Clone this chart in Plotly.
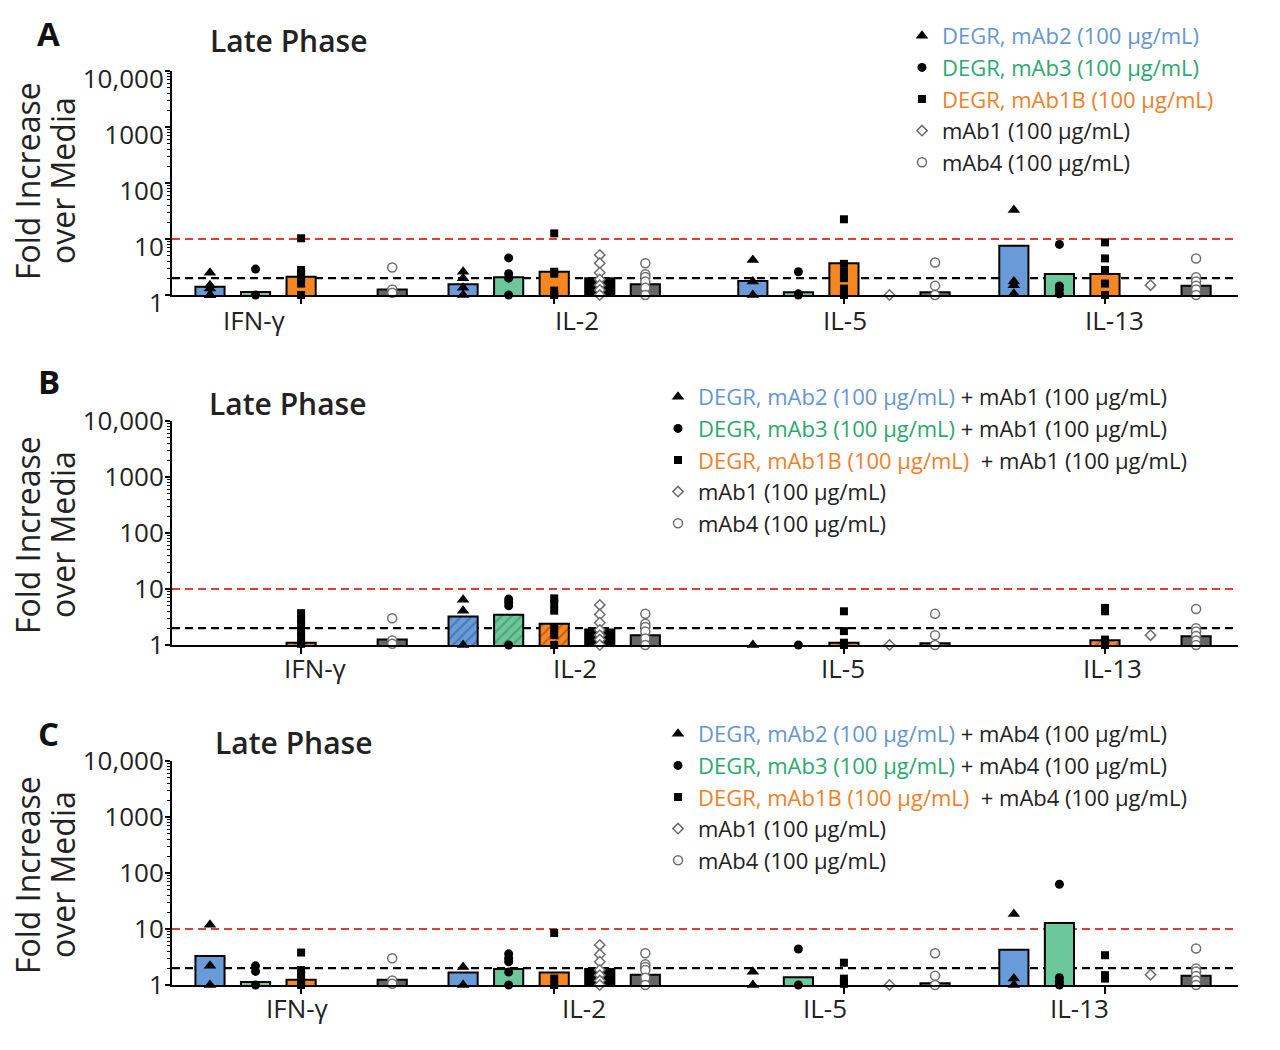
import plotly.graph_objects as go

# ---------------- data ----------------
cytokines = ["IFN-γ", "IL-2", "IL-5", "IL-13"]
series_keys = ["mAb2", "mAb3", "mAb1B", "mAb1", "mAb4"]
y_tickvals = [1, 10, 100, 1000, 10000]
y_ticktext = ["1", "10", "100", "1000", "10,000"]
threshold_red = 10
threshold_black = 2

# Panel A (DEGR alone)
A_bar_mAb2 = [1.41, 1.55, 1.78, 7.6]
A_bar_mAb3 = [1.13, 2.07, 1.12, 2.37]
A_bar_mAb1B = [2.12, 2.6, 3.7, 2.37]
A_bar_mAb1 = [None, 2.0, None, None]
A_bar_mAb4 = [1.26, 1.55, 1.12, 1.47]
A_pts_mAb2 = [[2.5, 1.5, 1.3, 1.0, 1.0], [2.6, 2.0, 1.35, 1.0], [4.2, 1.75, 1.0], [33, 1.75, 1.5, 1.05]]
A_pts_mAb3 = [[2.9, 1.0], [4.6, 2.4, 2.0, 1.0], [2.6, 1.05, 1.0], [8.0, 1.45, 1.25, 1.05]]
A_pts_mAb1B = [[10.3, 2.8, 2.4, 2.0, 1.6, 1.0], [12.6, 2.6, 2.4, 1.2, 1.0],
               [22.5, 3.6, 2.6, 2.0, 1.3, 1.0], [8.7, 4.5, 2.8, 1.6, 1.0]]
A_pts_mAb1 = [[], [5.2, 3.7, 2.5, 1.9, 1.5, 1.23, 1.0], [1.0], [1.5]]
A_pts_mAb4 = [[3.1, 1.25, 1.1], [3.7, 2.35, 2.1, 1.75, 1.35, 1.0], [3.8, 1.47, 1.0],
              [4.5, 2.07, 1.75, 1.47, 1.25, 1.0]]

# Panel B (DEGR + mAb1)
B_bar_mAb2 = [None, 3.24, None, None]
B_bar_mAb3 = [None, 3.47, None, None]
B_bar_mAb1B = [1.1, 2.4, 1.1, 1.22]
B_bar_mAb1 = [None, 1.89, None, None]
B_bar_mAb4 = [1.26, 1.5, 1.08, 1.44]
B_pts_mAb2 = [[], [6.4, 4.1, 1.0], [1.0], []]
B_pts_mAb3 = [[], [6.6, 5.8, 5.0, 1.0], [1.0], []]
B_pts_mAb1B = [[3.7, 2.9, 2.3, 1.8, 1.4, 1.05], [6.8, 5.5, 4.1, 2.0, 1.5, 1.0],
               [4.0, 1.77, 1.1, 1.0], [4.6, 4.0, 1.25, 1.0]]
B_pts_mAb1 = [[], [5.2, 3.5, 2.5, 1.85, 1.5, 1.25, 1.0], [1.0], [1.5]]
B_pts_mAb4 = [[3.0, 1.2, 1.05], [3.6, 2.4, 2.1, 1.75, 1.3, 1.0], [3.6, 1.5, 1.0],
              [4.4, 2.0, 1.75, 1.45, 1.2, 1.0]]

# Panel C (DEGR + mAb4)
C_bar_mAb2 = [3.3, 1.68, None, 4.27]
C_bar_mAb3 = [1.13, 1.93, 1.37, 12.8]
C_bar_mAb1B = [1.24, 1.68, None, None]
C_bar_mAb1 = [None, 1.93, None, None]
C_bar_mAb4 = [1.24, 1.53, 1.08, 1.47]
C_pts_mAb2 = [[11.9, 2.2, 1.0], [2.1, 1.0], [1.73, 1.0], [18.5, 1.3, 1.0]]
C_pts_mAb3 = [[2.2, 1.75, 1.0], [3.6, 3.0, 2.6, 1.7, 1.0], [4.4, 1.0], [63, 1.35, 1.15, 1.0]]
C_pts_mAb1B = [[3.8, 1.85, 1.6, 1.2, 1.0], [8.5, 1.3, 1.0], [2.5, 1.3, 1.15, 1.05], [3.4, 1.5, 1.3]]
C_pts_mAb1 = [[], [5.2, 3.5, 2.6, 1.85, 1.5, 1.2, 1.0], [1.0], [1.53]]
C_pts_mAb4 = [[3.0, 1.2, 1.05], [3.7, 2.35, 2.1, 1.85, 1.35, 1.0], [3.7, 1.47, 1.0],
              [4.5, 1.98, 1.75, 1.45, 1.2, 1.0]]

# ---------------- layout / style ----------------
W, H = 1280, 1050
FONT = "Open Sans"
TXT = "#222222"
group_start = [0.834, 6.39, 12.75, 18.48]   # slot units
x_range = [0, 23.4]
bar_width = 0.64

bar_colors = {"mAb2": "#689bd7", "mAb3": "#6cc89b", "mAb1B": "#f58723", "mAb1": "#000000", "mAb4": "#666666"}
hatch_colors = {"mAb2": "#2b5797", "mAb3": "#2e7d55", "mAb1B": "#8a4210"}
text_colors = {"mAb2": "#6496d2", "mAb3": "#2aa96e", "mAb1B": "#f08028"}
symbols = {"mAb2": "triangle-up", "mAb3": "circle", "mAb1B": "square", "mAb1": "diamond", "mAb4": "circle"}
sizes = {"mAb2": 11, "mAb3": 9, "mAb1B": 8, "mAb1": 8, "mAb4": 9}

def legend_names(suffix):
    names = {}
    for k in ["mAb2", "mAb3"]:
        names[k] = f"<span style='color:{text_colors[k]}'>DEGR, {k} (100 µg/mL)</span>" + (f" + {suffix} (100 µg/mL)" if suffix else "")
    names["mAb1B"] = f"<span style='color:{text_colors['mAb1B']}'>DEGR, mAb1B (100 µg/mL)</span>" + (f"\u00a0 + {suffix} (100 µg/mL)" if suffix else "")
    names["mAb1"] = "mAb1 (100 µg/mL)"
    names["mAb4"] = "mAb4 (100 µg/mL)"
    return names

panels = [
    dict(letter="A", suffix=None, hatch=False,
         bars=[A_bar_mAb2, A_bar_mAb3, A_bar_mAb1B, A_bar_mAb1, A_bar_mAb4],
         pts=[A_pts_mAb2, A_pts_mAb3, A_pts_mAb1B, A_pts_mAb1, A_pts_mAb4],
         top=71, bottom=295, title_xy=(288, 41), letter_xy=(48, 33), ytitle_y=181,
         label_x=[1.80, 8.89, 14.77, 20.68], label_y=320, legend_xy=(902, 15), shift=8),
    dict(letter="B", suffix="mAb1", hatch=True,
         bars=[B_bar_mAb2, B_bar_mAb3, B_bar_mAb1B, B_bar_mAb1, B_bar_mAb4],
         pts=[B_pts_mAb2, B_pts_mAb3, B_pts_mAb1B, B_pts_mAb1, B_pts_mAb4],
         top=421, bottom=645, title_xy=(287, 403), letter_xy=(49, 381), ytitle_y=535,
         label_x=[3.16, 8.84, 14.72, 20.65], label_y=668, legend_xy=(658, 376), shift=0),
    dict(letter="C", suffix="mAb4", hatch=False,
         bars=[C_bar_mAb2, C_bar_mAb3, C_bar_mAb1B, C_bar_mAb1, C_bar_mAb4],
         pts=[C_pts_mAb2, C_pts_mAb3, C_pts_mAb1B, C_pts_mAb1, C_pts_mAb4],
         top=761, bottom=985, title_xy=(293, 742), letter_xy=(48, 733), ytitle_y=875,
         label_x=[2.76, 9.04, 14.33, 19.93], label_y=1008, legend_xy=(658, 713), shift=0),
]

fig = go.Figure()
layout = dict(width=W, height=H, margin=dict(l=0, r=0, t=0, b=0, autoexpand=False),
              paper_bgcolor="white", plot_bgcolor="white", barmode="overlay",
              font=dict(family=FONT, color=TXT), showlegend=True)
annotations = []
shapes = []

for pi, p in enumerate(panels):
    sfx = "" if pi == 0 else str(pi + 1)
    xa, ya = "x" + sfx, "y" + sfx
    leg = "legend" + sfx
    names = legend_names(p["suffix"])
    # bars
    for si, key in enumerate(series_keys):
        xs = [group_start[g] + si for g in range(len(cytokines))]
        marker = dict(color=bar_colors[key], line=dict(color="black", width=2))
        if p["hatch"] and key in hatch_colors:
            marker["pattern"] = dict(shape="/", fillmode="overlay", fgcolor=hatch_colors[key],
                                     size=7, solidity=0.3)
        fig.add_trace(go.Bar(x=xs, y=p["bars"][si], width=bar_width, marker=marker,
                             xaxis=xa, yaxis=ya, showlegend=False, hoverinfo="skip"))
    # points
    for si, key in enumerate(series_keys):
        px, py = [], []
        for g in range(len(cytokines)):
            for v in p["pts"][si][g]:
                px.append(group_start[g] + si)
                py.append(v)
        if key in ("mAb1", "mAb4"):
            mk = dict(symbol=symbols[key], size=sizes[key], color="white",
                      line=dict(color="#6e6e6e", width=1.5))
        else:
            mk = dict(symbol=symbols[key], size=sizes[key], color="black", line=dict(width=0))
        fig.add_trace(go.Scatter(x=px, y=py, mode="markers", marker=mk, name=names[key],
                                 xaxis=xa, yaxis=ya, legend=leg, cliponaxis=False))
    # axes
    dom_y = [1 - p["bottom"] / H, 1 - p["top"] / H]
    layout["xaxis" + sfx] = dict(domain=[172 / W, 1238 / W], range=x_range, anchor=ya,
                                 showline=True, linecolor="black", linewidth=2,
                                 showgrid=False, zeroline=False, ticks="outside",
                                 tickvals=[gs + 2 for gs in group_start], ticklen=7,
                                 tickwidth=2, tickcolor="black", showticklabels=False)
    layout["yaxis" + sfx] = dict(domain=dom_y, type="log", range=[0, 4], anchor=xa,
                                 showline=True, linecolor="black", linewidth=2,
                                 showgrid=False, zeroline=False, ticks="outside",
                                 tickvals=y_tickvals, ticktext=y_ticktext, ticklen=5,
                                 tickwidth=2, tickcolor="black",
                                 tickfont=dict(size=26, family=FONT, color=TXT),
                                 ticklabelshift=p["shift"], ticklabelstandoff=-4,
                                 minor=dict(ticks="outside", ticklen=3, tickwidth=1,
                                            tickcolor="black", dtick="D1", showgrid=False))
    layout[leg] = dict(x=p["legend_xy"][0] / W, y=1 - p["legend_xy"][1] / H,
                       xanchor="left", yanchor="top", bgcolor="rgba(0,0,0,0)",
                       font=dict(size=22, family=FONT, color=TXT), traceorder="normal",
                       itemsizing="trace")
    # reference lines (log axis: values in data units)
    for thr, col in [(threshold_red, "#e63b2e"), (threshold_black, "black")]:
        shapes.append(dict(type="line", xref=xa + " domain", yref=ya, x0=0, x1=1,
                           y0=thr, y1=thr,
                           line=dict(color=col, width=2.2, dash="8px,5px"), layer="below"))
    # category labels
    for g, lab in enumerate(cytokines):
        annotations.append(dict(text=lab, x=p["label_x"][g], xref=xa, y=1 - p["label_y"] / H,
                                yref="paper", showarrow=False, xanchor="center", yanchor="middle",
                                font=dict(size=26, family=FONT, color=TXT)))
    # titles
    annotations.append(dict(text="Late Phase", x=p["title_xy"][0] / W, y=1 - p["title_xy"][1] / H,
                            xref="paper", yref="paper", showarrow=False, xanchor="center",
                            yanchor="middle", font=dict(size=30, family=FONT, color=TXT, weight=600)))
    annotations.append(dict(text=p["letter"], x=p["letter_xy"][0] / W, y=1 - p["letter_xy"][1] / H,
                            xref="paper", yref="paper", showarrow=False, xanchor="center",
                            yanchor="middle", font=dict(size=33, family=FONT, color="#111", weight=700)))
    for line_text, lx in [("Fold Increase", 27), ("over Media", 62)]:
        annotations.append(dict(text=line_text, x=lx / W, y=1 - p["ytitle_y"] / H,
                                xref="paper", yref="paper", showarrow=False, xanchor="center",
                                yanchor="middle", textangle=-90,
                                font=dict(size=32, family=FONT, color=TXT)))

layout["annotations"] = annotations
layout["shapes"] = shapes
fig.update_layout(**layout)
fig.write_html("out.html", config={"displayModeBar": False},
               post_script="document.body.style.margin='0px';")
